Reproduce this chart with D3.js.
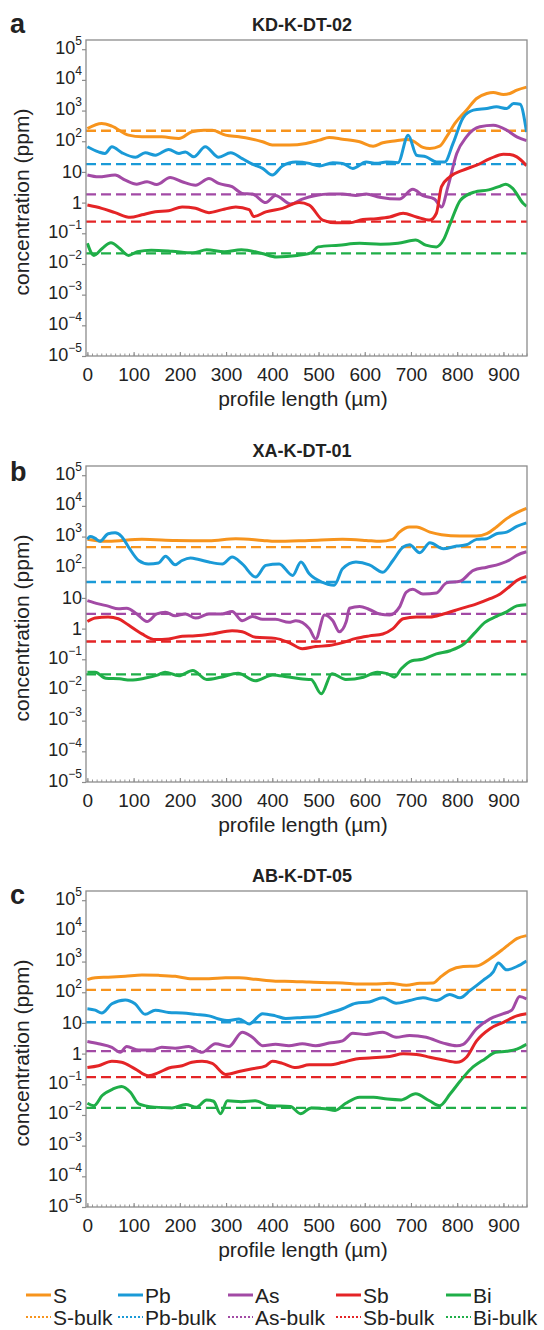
<!DOCTYPE html>
<html>
<head>
<meta charset="utf-8">
<script src="https://cdn.jsdelivr.net/npm/d3@7"></script>
<style>
body { margin: 0; background: #fff; }
text { font-family: "Liberation Sans", Arial, sans-serif; fill: #222; }
</style>
</head>
<body>
<script>
var W = 544, H = 1330;

var elements = ['S', 'Pb', 'As', 'Sb', 'Bi'];
var colors = ['#f7941d', '#1a9ad7', '#a24aa5', '#e42426', '#1fae48'];
var xTicks = [0, 100, 200, 300, 400, 500, 600, 700, 800, 900];
var yTicks = [1e-5, 1e-4, 1e-3, 1e-2, 1e-1, 1, 10, 1e2, 1e3, 1e4, 1e5];

// a: KD-K-DT-02  [profile length µm, ppm]
var kdS = [[0,261],[31,379],[53,311],[89,158],[118,139],[161,139],[198,123],[226,203],[252,230],[270,230],[299,158],[328,139],[350,123],[379,96],[400,75],[437,75],[473,85],[502,109],[523,133],[552,117],[589,96],[618,69],[639,89],[668,103],[690,114],[704,103],[726,63],[741,58],[762,69],[777,139],[795,379],[820,1030],[842,2470],[864,3600],[878,3880],[900,3340],[914,3600],[929,4620],[950,5800]];
var kdPb = [[0,66],[24,45],[38,40],[53,66],[75,42],[104,30],[125,42],[147,35],[176,54],[198,40],[212,45],[230,31],[255,66],[284,30],[310,42],[335,27],[357,18],[379,13],[400,7.9],[422,15.6],[451,21],[480,19],[502,15.6],[531,20],[552,19],[574,13],[603,21],[625,19],[647,21],[672,20],[694,158],[712,35],[733,31],[755,21],[773,21],[791,85],[813,590],[835,1030],[864,1170],[885,1320],[907,1170],[922,1700],[936,1600],[950,200]];
var kdAs = [[0,7.9],[24,6.9],[60,7.9],[82,5.4],[107,4.0],[129,4.8],[150,3.9],[179,6.6],[205,4.8],[234,3.7],[263,6.1],[284,4.2],[313,3.3],[335,2.0],[357,1.9],[386,1.0],[407,1.7],[440,0.9],[465,1.3],[494,1.7],[523,1.9],[552,1.9],[581,1.7],[603,1.9],[632,1.5],[675,1.3],[704,2.7],[726,1.7],[751,1.3],[766,0.72],[780,3.3],[799,40],[820,139],[849,295],[878,330],[907,230],[929,139],[950,105]];
var kdSb = [[0,0.83],[31,0.65],[60,0.47],[93,0.33],[118,0.40],[147,0.50],[176,0.54],[205,0.72],[234,0.65],[263,0.47],[292,0.59],[321,0.72],[350,0.59],[360,0.35],[386,0.50],[422,0.65],[458,1.0],[480,0.83],[509,0.27],[538,0.22],[567,0.22],[596,0.28],[625,0.30],[654,0.34],[683,0.45],[712,0.34],[741,0.27],[755,0.45],[766,3.3],[784,6.9],[813,11.5],[842,16.6],[871,27],[900,38],[914,37],[929,31],[950,16]];
var kdBi = [[0,0.047],[14,0.019],[32,0.032],[51,0.049],[70,0.032],[89,0.019],[108,0.025],[138,0.028],[183,0.026],[228,0.023],[258,0.029],[296,0.025],[333,0.029],[378,0.022],[409,0.017],[454,0.019],[484,0.023],[499,0.036],[544,0.041],[589,0.047],[634,0.044],[672,0.047],[710,0.06],[732,0.041],[755,0.036],[770,0.06],[785,0.21],[807,1.2],[837,2.2],[868,2.6],[890,3.3],[905,4.0],[920,2.9],[943,0.93],[950,0.75]];
var kdBulk = [220, 18, 1.85, 0.24, 0.022];

// b: XA-K-DT-01
var xaS = [[0,810],[17,750],[45,700],[118,810],[190,750],[263,730],[321,850],[379,750],[407,700],[480,750],[552,810],[603,750],[633,700],[660,810],[675,1400],[697,2050],[712,2050],[741,1400],[766,1150],[806,1040],[842,1040],[864,1240],[885,2050],[907,3840],[929,6000],[950,8300]];
var xaPb = [[0,810],[6,1000],[16,890],[27,700],[45,1240],[60,1320],[74,1000],[89,455],[111,166],[132,128],[154,138],[169,229],[190,120],[205,166],[223,200],[241,178],[263,148],[292,128],[313,214],[335,128],[364,48],[386,115],[415,128],[444,54],[462,148],[480,61],[509,32],[520,28],[534,26],[552,89],[581,148],[610,120],[639,69],[661,166],[683,455],[697,540],[719,295],[741,630],[770,400],[799,490],[820,540],[842,810],[864,850],[885,1240],[907,1400],[929,2150],[950,2800]];
var xaAs = [[0,8.2],[24,6.4],[45,5.4],[67,4.4],[85,4.6],[107,3.0],[129,1.7],[150,3.0],[169,3.4],[190,2.6],[212,3.0],[234,2.2],[263,3.0],[292,3.0],[313,3.6],[335,1.8],[357,2.5],[379,2.0],[407,2.0],[436,1.6],[451,1.8],[480,1.0],[494,0.46],[513,2.8],[531,1.8],[545,0.79],[560,1.7],[567,4.6],[589,5.3],[610,4.2],[632,3.0],[654,2.8],[675,5.0],[690,15.5],[704,19],[726,13.5],[755,14.5],[777,31],[806,35],[835,79],[864,100],[893,129],[914,175],[929,245],[950,320]];
var xaSb = [[0,1.7],[17,2.2],[45,2.4],[67,2.1],[89,1.3],[118,0.67],[147,0.44],[176,0.46],[205,0.56],[234,0.58],[270,0.67],[313,0.85],[335,0.79],[364,0.52],[407,0.48],[436,0.35],[465,0.22],[494,0.26],[523,0.28],[552,0.35],[581,0.48],[610,0.58],[639,0.67],[661,1.0],[683,2.1],[712,2.4],[741,2.4],[770,3.0],[806,4.4],[842,6.4],[871,9.4],[893,13.5],[914,24],[929,37],[950,50]];
var xaBi = [[0,0.038],[17,0.038],[40,0.024],[70,0.023],[93,0.021],[123,0.024],[153,0.031],[168,0.038],[198,0.029],[228,0.043],[258,0.022],[288,0.026],[326,0.035],[363,0.020],[401,0.031],[431,0.027],[461,0.023],[484,0.022],[506,0.0075],[529,0.034],[559,0.022],[597,0.026],[627,0.038],[649,0.034],[664,0.026],[679,0.049],[702,0.09],[725,0.10],[755,0.15],[785,0.19],[815,0.32],[837,0.7],[860,1.6],[885,2.5],[907,3.5],[929,5.5],[950,6]];
var xaBulk = [455, 33, 3.0, 0.38, 0.032];

// c: AB-K-DT-05
var abS = [[0,257],[17,295],[45,310],[82,335],[118,365],[154,355],[190,330],[226,277],[263,277],[299,295],[328,295],[364,263],[407,230],[444,225],[480,214],[523,204],[552,200],[589,186],[618,186],[654,195],[690,169],[719,195],[748,200],[762,295],[784,515],[813,690],[842,720],[871,1240],[900,2600],[914,3830],[929,5600],[950,7000]];
var abPb = [[0,29],[17,26],[31,21],[53,42],[82,56],[103,42],[125,19],[147,26],[176,22],[205,21],[234,19],[263,17],[284,13.5],[306,12],[328,13.5],[350,9.3],[379,20],[407,17],[429,14],[465,15],[494,16],[523,21],[552,29],[581,44],[610,48],[639,66],[668,44],[697,54],[726,66],[755,54],[784,85],[806,66],[828,115],[856,245],[878,460],[889,890],[907,540],[929,690],[950,1050]];
var abAs = [[0,2.5],[24,2.1],[53,1.6],[71,1.1],[85,1.7],[111,1.3],[140,1.3],[161,1.6],[190,1.5],[219,1.7],[248,1.1],[277,2.1],[306,1.7],[335,5.0],[357,3.4],[379,1.8],[407,2.0],[436,1.8],[465,2.1],[494,1.8],[523,2.2],[552,2.6],[574,4.6],[603,4.2],[639,5.0],[668,3.4],[697,3.9],[733,3.4],[770,2.2],[799,1.8],[813,2.0],[842,6.5],[871,13.5],[900,20],[918,26],[935,73],[950,60]];
var abSb = [[0,0.35],[24,0.40],[53,0.56],[74,0.52],[103,0.32],[132,0.19],[154,0.24],[176,0.34],[205,0.40],[226,0.52],[248,0.56],[270,0.48],[299,0.21],[328,0.26],[357,0.32],[386,0.40],[400,0.56],[422,0.48],[451,0.35],[480,0.43],[523,0.43],[552,0.52],[581,0.67],[610,0.72],[654,0.80],[683,0.98],[712,0.94],[741,0.76],[770,0.62],[799,0.52],[820,0.76],[842,2.6],[871,6.5],[900,10.5],[929,17],[950,20]];
var abBi = [[0,0.024],[14,0.020],[32,0.043],[55,0.07],[74,0.085],[93,0.055],[111,0.023],[145,0.018],[183,0.017],[213,0.022],[236,0.018],[258,0.031],[273,0.028],[288,0.011],[303,0.029],[333,0.027],[363,0.029],[394,0.020],[439,0.019],[461,0.011],[484,0.017],[514,0.016],[536,0.014],[559,0.024],[589,0.038],[619,0.038],[649,0.033],[679,0.031],[710,0.049],[740,0.029],[762,0.020],[785,0.049],[807,0.13],[830,0.32],[860,0.67],[883,1.1],[907,1.2],[929,1.4],[950,2.0]];
var abBulk = [120, 10.5, 1.2, 0.17, 0.017];

var panels = [
    { letter: 'a', title: 'KD-K-DT-02', series: [kdS, kdPb, kdAs, kdSb, kdBi], bulk: kdBulk, top: 40, letterY: 33 },
    { letter: 'b', title: 'XA-K-DT-01', series: [xaS, xaPb, xaAs, xaSb, xaBi], bulk: xaBulk, top: 466, letterY: 481 },
    { letter: 'c', title: 'AB-K-DT-05', series: [abS, abPb, abAs, abSb, abBi], bulk: abBulk, top: 891, letterY: 904 }
];

var left = 86, right = 527, ph = 316;
var frameColor = '#8c8c8c';

var svg = d3.select('body').append('svg')
        .attr('width', W)
        .attr('height', H);

var x = d3.scaleLinear().domain([-3, 951]).range([left, right]);

var supText = function (e) { return (e < 0 ? '\u2212' : '') + Math.abs(e); };

panels.forEach(function (p, pi) {
    var top = p.top, bottom = top + ph;
    var y = d3.scaleLog().domain([1e-5, Math.pow(10, 5.3)]).range([bottom, top]);
    var g = svg.append('g');

    g.append('clipPath').attr('id', 'clip' + pi)
        .append('rect').attr('x', left).attr('y', top).attr('width', right - left).attr('height', ph);

    // titles
    g.append('text').attr('x', 10).attr('y', p.letterY)
        .style('font-size', '27px').style('font-weight', 'bold').text(p.letter);
    g.append('text').attr('x', 302).attr('y', top - 9).attr('text-anchor', 'middle')
        .style('font-size', '18px').style('font-weight', 'bold').text(p.title);

    // y axis
    var yAxis = g.append('g').attr('transform', 'translate(' + left + ',0)')
        .call(d3.axisLeft(y).tickValues(yTicks).tickSize(4).tickFormat(function () { return ''; }));
    yAxis.select('.domain').remove();
    yAxis.selectAll('.tick line').attr('stroke', frameColor).attr('stroke-width', 1.2);
    yAxis.selectAll('.tick').each(function (d) {
        var e = Math.round(Math.log10(d));
        var t = d3.select(this).append('text')
            .attr('x', -4).attr('text-anchor', 'end')
            .style('font-size', '18px').style('fill', '#222');
        if (e === 0 || e === 1) {
            t.attr('y', 6).text(e === 0 ? '1' : '10');
        } else {
            t.attr('y', 4);
            t.append('tspan').text('10');
            t.append('tspan').attr('dy', -9).style('font-size', '12px').text(supText(e));
        }
    });

    // x axis: minor and major ticks pointing inward
    var xMinor = g.append('g').attr('transform', 'translate(0,' + bottom + ')')
        .call(d3.axisBottom(x).tickValues(d3.range(0, 951, 10)).tickSize(-2.5).tickFormat(function () { return ''; }));
    xMinor.select('.domain').remove();
    xMinor.selectAll('.tick line').attr('stroke', frameColor).attr('stroke-width', 0.9);

    var xAxis = g.append('g').attr('transform', 'translate(0,' + bottom + ')')
        .call(d3.axisBottom(x).tickValues(xTicks).tickSize(-4).tickPadding(12));
    xAxis.select('.domain').remove();
    xAxis.selectAll('.tick line').attr('stroke', frameColor).attr('stroke-width', 1.1);
    xAxis.selectAll('.tick text').attr('y', 25).attr('dy', 0)
        .style('font-size', '19px').style('font-family', '"Liberation Sans", Arial, sans-serif').style('fill', '#222');

    g.append('text').attr('x', 303).attr('y', bottom + 50).attr('text-anchor', 'middle')
        .style('font-size', '21px').text('profile length (\u00b5m)');
    g.append('text').attr('transform', 'translate(29,' + (top + ph / 2 + 4) + ') rotate(-90)')
        .attr('text-anchor', 'middle').style('font-size', '21px').text('concentration (ppm)');

    // bulk dashed lines
    var plot = g.append('g').attr('clip-path', 'url(#clip' + pi + ')');
    plot.selectAll('line.bulk').data(p.bulk).enter().append('line')
        .attr('class', 'bulk')
        .attr('x1', left).attr('x2', right)
        .attr('y1', function (d) { return y(d); })
        .attr('y2', function (d) { return y(d); })
        .attr('stroke', function (d, i) { return colors[i]; })
        .attr('stroke-width', 2.3)
        .attr('stroke-dasharray', '10,5');

    var line = d3.line()
        .x(function (d) { return x(d[0]); })
        .y(function (d) { return y(d[1]); })
        .curve(d3.curveMonotoneX);

    plot.selectAll('path.series').data(p.series).enter().append('path')
        .attr('class', 'series')
        .attr('d', line)
        .attr('fill', 'none')
        .attr('stroke', function (d, i) { return colors[i]; })
        .attr('stroke-width', 3)
        .attr('stroke-linejoin', 'round');

    // frame
    g.append('rect').attr('x', left).attr('y', top).attr('width', right - left).attr('height', ph)
        .attr('fill', 'none').attr('stroke', frameColor).attr('stroke-width', 1.3);
});

// legend
var legX = [26, 118, 228, 336, 446];
var leg = svg.append('g');
var rows = [
    { y: 1295, suffix: '', dash: null, width: 3 },
    { y: 1317, suffix: '-bulk', dash: '2,2', width: 2 }
];
rows.forEach(function (r) {
    var items = leg.selectAll(null).data(elements).enter().append('g')
        .attr('transform', function (d, i) { return 'translate(' + legX[i] + ',' + r.y + ')'; });
    items.append('line')
        .attr('x1', 0).attr('x2', 25).attr('y1', 0).attr('y2', 0)
        .attr('stroke', function (d, i) { return colors[i]; })
        .attr('stroke-width', r.width)
        .attr('stroke-dasharray', r.dash);
    items.append('text').attr('x', 27).attr('y', 8)
        .style('font-size', '21px')
        .text(function (d) { return d + r.suffix; });
});
</script>
</body>
</html>
